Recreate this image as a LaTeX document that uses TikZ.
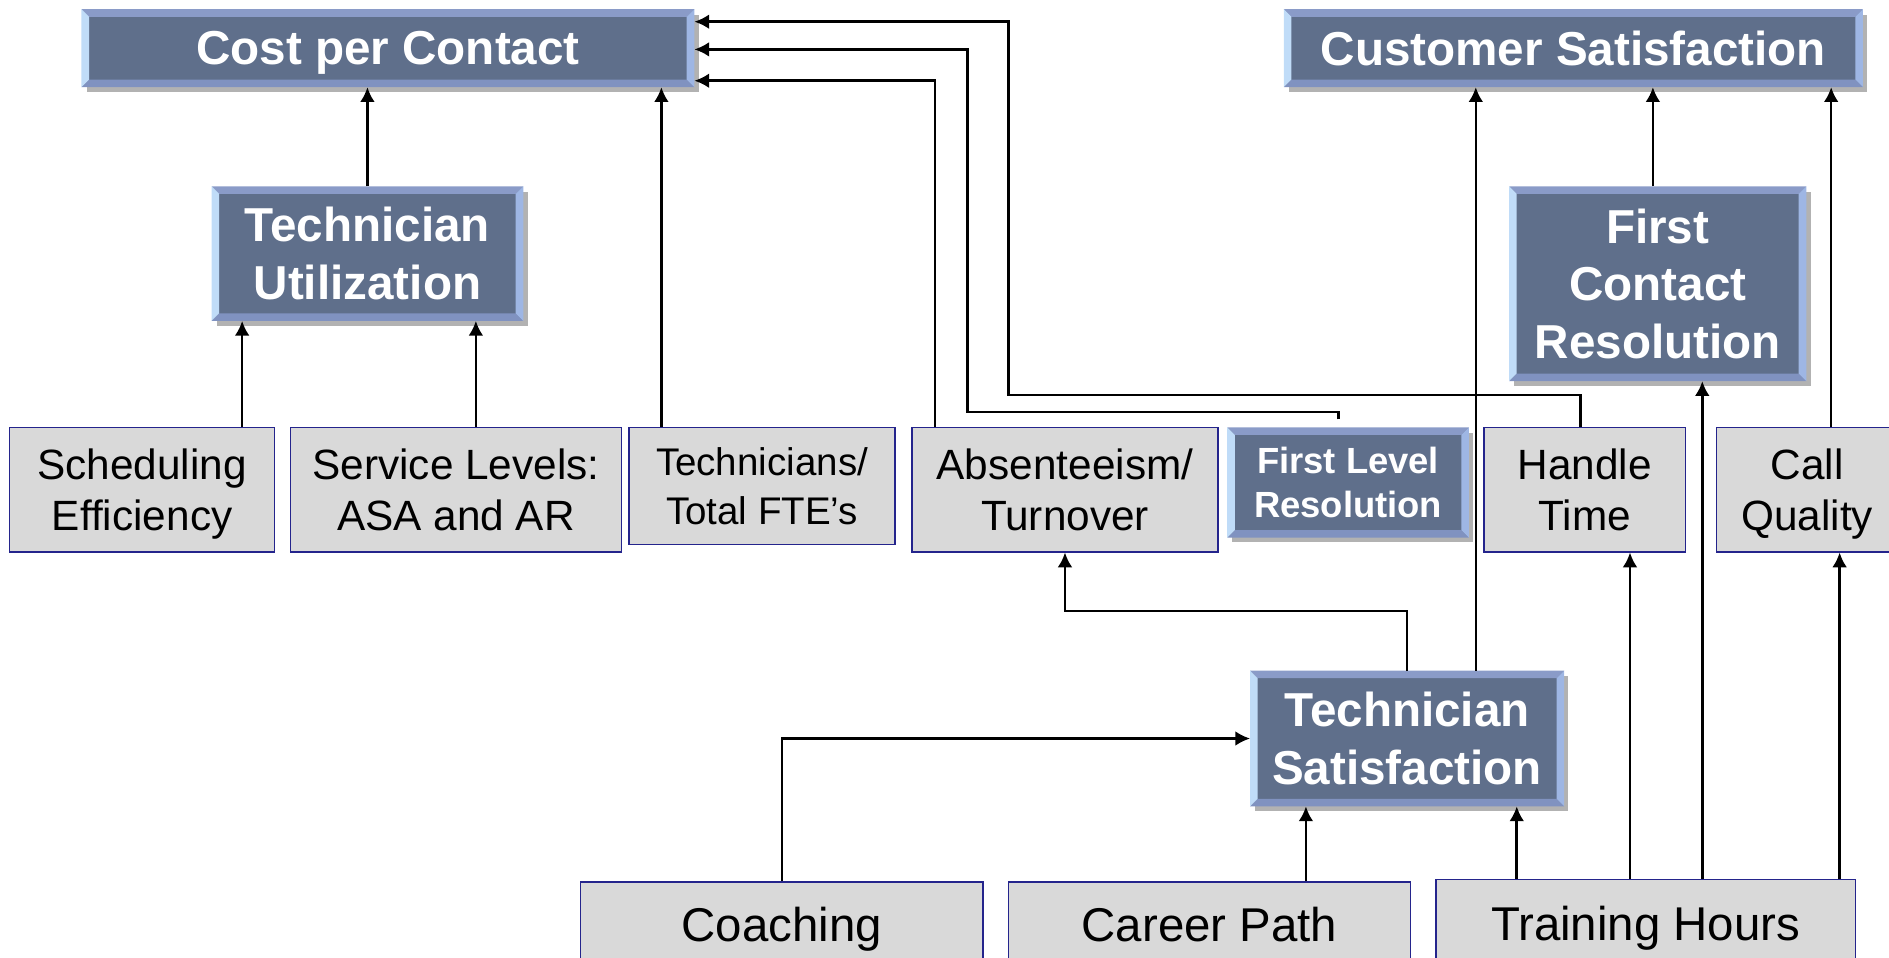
\documentclass[tikz,border=0pt]{standalone}
\usepackage{fontspec}
\setmainfont{Liberation Sans}
\usetikzlibrary{arrows.meta,shadows}
\definecolor{dkfill}{RGB}{95,111,139}
\definecolor{bvT}{RGB}{138,155,200}
\definecolor{bvB}{RGB}{128,146,192}
\definecolor{bvL}{RGB}{192,220,248}
\definecolor{bvR}{RGB}{158,182,228}
\definecolor{ltfill}{RGB}{217,217,217}
\definecolor{navy}{RGB}{36,36,140}
\newlength\bv
\setlength\bv{3.6pt}
\newcommand\bevelbox[1]{%
 \fill[bvT] (#1.north west) -- (#1.north east) -- ([xshift=-\bv,yshift=-\bv]#1.north east) -- ([xshift=\bv,yshift=-\bv]#1.north west) -- cycle;
 \fill[bvB] (#1.south west) -- (#1.south east) -- ([xshift=-\bv,yshift=\bv]#1.south east) -- ([xshift=\bv,yshift=\bv]#1.south west) -- cycle;
 \fill[bvL] (#1.north west) -- ([xshift=\bv,yshift=-\bv]#1.north west) -- ([xshift=\bv,yshift=\bv]#1.south west) -- (#1.south west) -- cycle;
 \fill[bvR] (#1.north east) -- ([xshift=-\bv,yshift=-\bv]#1.north east) -- ([xshift=-\bv,yshift=\bv]#1.south east) -- (#1.south east) -- cycle;
}
\tikzset{
 dark/.style={fill=dkfill, draw=none, inner sep=0pt, align=center, text=white, text depth=0pt,
   font=\bfseries\fontsize{22.5}{27.3}\selectfont,
   drop shadow={shadow xshift=2.2pt, shadow yshift=-2.4pt, opacity=0.3, fill=black}},
 darksmall/.style={dark, font=\bfseries\fontsize{17.2}{20.5}\selectfont},
 light/.style={fill=ltfill, draw=navy, line width=0.7pt, inner sep=0pt, align=center, text depth=0pt,
   text=black, font=\fontsize{20}{24.5}\selectfont},
 lightsmall/.style={light, font=\fontsize{18.2}{22.8}\selectfont},
 lightbig/.style={light, font=\fontsize{22.4}{27}\selectfont},
 conn/.style={draw=black, line width=1.2pt, -{Latex[length=7pt,width=7pt]}},
}
\begin{document}
\begin{tikzpicture}[x=0.02cm, y=-0.02cm]
\useasboundingbox (0,0) rectangle (1568,795);
\clip (0,0) rectangle (1568,795);
% dark boxes
\node[dark, minimum width=508*0.02cm, minimum height=64*0.02cm] (cpc) at (322,40) {Cost per Contact};
\node[dark, minimum width=480*0.02cm, minimum height=64*0.02cm] (cs) at (1306,40) {Customer Satisfaction};
\node[dark, minimum width=258*0.02cm, minimum height=111*0.02cm] (tu) at (305,210.5) {Technician\\Utilization};
\node[dark, minimum width=246*0.02cm, minimum height=161*0.02cm] (fcr) at (1376,235.5) {First\\Contact\\Resolution};
\node[darksmall, minimum width=200*0.02cm, minimum height=91*0.02cm] (flr) at (1119,400.5) {First Level\\Resolution};
\node[dark, minimum width=260*0.02cm, minimum height=112*0.02cm] (ts) at (1168,613) {Technician\\Satisfaction};
\bevelbox{cpc}\bevelbox{cs}\bevelbox{tu}\bevelbox{fcr}\bevelbox{flr}\bevelbox{ts}
% light boxes
\node[light, minimum width=220*0.02cm, minimum height=103*0.02cm] (se) at (118,406.5) {Scheduling\\Efficiency};
\node[light, minimum width=275*0.02cm, minimum height=103*0.02cm] (sl) at (378.5,406.5) {Service Levels:\\ASA and AR};
\node[lightsmall, minimum width=221*0.02cm, minimum height=97*0.02cm] (tf) at (632.5,403.5) {Technicians/\\Total FTE’s};
\node[light, minimum width=254*0.02cm, minimum height=103*0.02cm] (ab) at (884,406.5) {Absenteeism/\\Turnover};
\node[light, minimum width=167*0.02cm, minimum height=103*0.02cm] (ht) at (1315.5,406.5) {Handle\\Time};
\node[light, minimum width=150*0.02cm, minimum height=103*0.02cm] (cq) at (1500,406.5) {Call\\Quality};
\node[lightbig, minimum width=334*0.02cm, minimum height=70*0.02cm] (co) at (649,767) {Coaching};
\node[lightbig, minimum width=334*0.02cm, minimum height=70*0.02cm] (cp) at (1004,767) {Career Path};
\node[lightbig, minimum width=348*0.02cm, minimum height=72*0.02cm] (th) at (1366,766) {Training Hours};
% connectors
\draw[conn] (tu.north) -- (tu.north |- cpc.south);
\draw[conn] (se.north -| 201,0) -- (201,0 |- tu.south);
\draw[conn] (sl.north -| 395,0) -- (395,0 |- tu.south);
\draw[conn] (tf.north -| 549,0) -- (549,0 |- cpc.south);
\draw[conn] (ab.north -| 776,0) -- (776,67) -- (cpc.east |- 0,67);
\coordinate (flrtop) at (1111,348);
\draw[conn] (flrtop) -- (1111,342) -- (803,342) -- (803,41) -- (cpc.east |- 0,41);
\draw[conn] (ht.north -| 1312,0) -- (1312,328) -- (837,328) -- (837,18) -- (cpc.east |- 0,18);
\draw[conn] (ts.north -| 1225,0) -- (1225,0 |- cs.south);
\draw[conn] (fcr.north -| 1372,0) -- (1372,0 |- cs.south);
\draw[conn] (cq.north -| 1520,0) -- (1520,0 |- cs.south);
\draw[conn] (ts.north -| 1168,0) -- (1168,507) -- (884,507) -- (ab.south);
\draw[conn] (co.north) -- (649,613) -- (ts.west |- 0,613);
\draw[conn] (cp.north -| 1084,0) -- (1084,0 |- ts.south);
\draw[conn] (th.north -| 1259,0) -- (1259,0 |- ts.south);
\draw[conn] (th.north -| 1353,0) -- (1353,0 |- ht.south);
\draw[conn] (th.north -| 1413,0) -- (1413,0 |- fcr.south);
\draw[conn] (th.north -| 1527,0) -- (1527,0 |- cq.south);
\end{tikzpicture}
\end{document}
